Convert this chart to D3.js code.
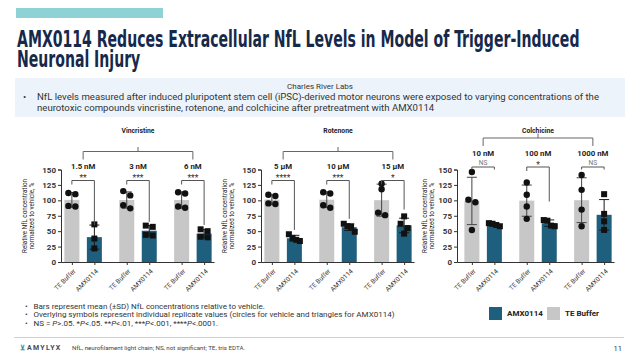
<!DOCTYPE html>
<html><head><meta charset="utf-8">
<script src="https://cdn.jsdelivr.net/npm/d3@7"></script>
<style>
html,body{margin:0;padding:0;background:#fff;}
svg{display:block;font-family:Roboto,'Noto Sans',sans-serif;}
</style></head>
<body>
<svg id="c" width="640" height="355"></svg>
<script>
// ---------- data ----------
const panels = ["Vincristine", "Rotenone", "Colchicine"];
const doses = [
  ["1.5 nM", "3 nM", "6 nM"],
  ["5 µM", "10 µM", "15 µM"],
  ["10 nM", "100 nM", "1000 nM"]
];
const treatments = ["TE Buffer", "AMX0114"];
// individual replicate values (% of vehicle)
const teBuffer = [
  [[110, 112, 91, 90], [115, 108, 92, 87], [113, 111, 90, 88]],
  [[109, 107, 95, 94], [113, 111, 92, 88], [127, 118, 80, 76]],
  [[146, 101, 97, 52], [129, 109, 90, 70], [141, 117, 85, 58]]
];
const amx0114 = [
  [[61, 38, 22], [59, 57, 44, 43], [53, 50, 41, 40]],
  [[45, 39, 36, 34], [62, 58, 57, 49], [74, 62, 55, 46]],
  [[63, 62, 60, 58], [68, 67, 59, 58], [110, 78, 66, 52]]
];
const sigLabels = [["**", "***", "***"], ["****", "***", "*"], ["NS", "*", "NS"]];
const sigLegEnd = [[60, 65, 60], [52, 70, 85], [null, 98, null]];
const yTicks = [0, 25, 50, 75, 100, 125, 150];
const yTitle = ["Relative NfL concentration", "normalized to vehicle, %"];
const legendItems = ["AMX0114", "TE Buffer"];
const titleLines = ["AMX0114 Reduces Extracellular NfL Levels in Model of Trigger-Induced", "Neuronal Injury"];

// ---------- styles ----------
const BLUE = "#1f5f7e", GRAY = "#c7c7c7", NAVY = "#16294b";
const svg = d3.select("#c");

// header
svg.append("rect").attr("x", 16).attr("y", 8).attr("width", 147).attr("height", 10).attr("fill", "#8ed2d6");
const tf = "'Liberation Sans Narrow','DejaVu Sans Condensed','Liberation Sans',sans-serif";
const tt = svg.append("text").attr("font-family", tf).attr("font-size", 22.5)
  .attr("font-weight", "bold").attr("fill", NAVY);
const l1 = tt.append("tspan").attr("x", 0).attr("y", 0).text(titleLines[0]);
tt.append("tspan").attr("x", 0).attr("y", 19.5).text(titleLines[1]);
const sx = 563 / l1.node().getComputedTextLength();
tt.attr("transform", `translate(17,47) scale(${sx},1)`);

svg.append("rect").attr("x", 15).attr("y", 78).attr("width", 610).attr("height", 39).attr("fill", "#ecf3fb");
svg.append("text").attr("x", 320).attr("y", 86).attr("dy", "0.35em").attr("text-anchor", "middle")
  .attr("font-size", 8).attr("fill", "#333").text("Charles River Labs");
svg.append("text").attr("x", 23).attr("y", 96.5).attr("dy", "0.35em").attr("font-size", 9.6).attr("fill", "#333").text("•");
svg.append("text").attr("x", 37).attr("y", 96.5).attr("dy", "0.35em").attr("font-size", 9.6).attr("fill", "#333")
  .text("NfL levels measured after induced pluripotent stem cell (iPSC)-derived motor neurons were exposed to varying concentrations of the");
svg.append("text").attr("x", 37).attr("y", 107.5).attr("dy", "0.35em").attr("font-size", 9.6).attr("fill", "#333")
  .text("neurotoxic compounds vincristine, rotenone, and colchicine after pretreatment with AMX0114");

// ---------- panels ----------
const y = d3.scaleLinear().domain([0, 150]).range([262, 169.5]);
const panelX = [0, 200, 400];
const axisX = [61, 61, 57];
const annShift = [0, 0, -13.5];
const inner = d3.scaleBand().domain(treatments).range([-18.75, 18.75]).paddingInner(1 / 3);
const mean = a => d3.mean(a), sd = a => d3.deviation(a);

panels.forEach((name, p) => {
  const px = panelX[p];
  const g = svg.append("g");
  const grp = d3.scalePoint().domain(doses[p]).range([px + 62, px + 214]).padding(0.385);
  const cx = (dose, trt) => grp(dose) + inner(trt) + inner.bandwidth() / 2;

  // custom x scale for the category axis
  const keys = [];
  doses[p].forEach(d => treatments.forEach(t => keys.push(d + "|" + t)));
  const xs = k => { const [d, t] = k.split("|"); return cx(d, t); };
  xs.domain = () => keys; xs.range = () => [px + axisX[p], px + 214]; xs.copy = () => xs;

  const rows = [];
  doses[p].forEach((d, i) => {
    rows.push({ d, t: "TE Buffer", v: teBuffer[p][i] });
    rows.push({ d, t: "AMX0114", v: amx0114[p][i] });
  });
  g.selectAll(".bar").data(rows).join("rect")
    .attr("x", r => grp(r.d) + inner(r.t)).attr("width", inner.bandwidth())
    .attr("y", r => y(mean(r.v))).attr("height", r => y(0) - y(mean(r.v)))
    .attr("fill", r => r.t === "TE Buffer" ? GRAY : BLUE);

  // error bars (mean ± SD)
  rows.forEach(r => {
    const m = mean(r.v), s = sd(r.v), c = cx(r.d, r.t);
    const col = r.t === "TE Buffer" ? "#444" : "#1a1a1a";
    g.append("line").attr("x1", c).attr("x2", c).attr("y1", y(m + s)).attr("y2", y(m - s)).attr("stroke", col).attr("stroke-width", 1);
    [m + s, m - s].forEach(v => g.append("line").attr("x1", c - 5).attr("x2", c + 5).attr("y1", y(v)).attr("y2", y(v)).attr("stroke", col).attr("stroke-width", 1));
  });

  // replicate points
  rows.forEach(r => {
    const c = cx(r.d, r.t);
    const sorted = r.v.slice().sort((a, b) => b - a);
    const clusters = [];
    sorted.forEach(v => {
      const last = clusters[clusters.length - 1];
      if (last && Math.abs(y(last[last.length - 1]) - y(v)) < 5.5) last.push(v); else clusters.push([v]);
    });
    clusters.forEach(cl => cl.forEach((v, i) => {
      const step = cl.length > 2 ? 11 / (cl.length - 1) : 7;
      const off = (i - (cl.length - 1) / 2) * step;
      if (r.t === "TE Buffer") {
        g.append("circle").attr("cx", c + off).attr("cy", y(v)).attr("r", 3.2).attr("fill", "#111");
      } else {
        g.append("rect").attr("x", c + off - 3).attr("y", y(v) - 3).attr("width", 6).attr("height", 6).attr("fill", "#111");
      }
    }));
  });

  // axes
  const ya = g.append("g").attr("transform", `translate(${px + axisX[p]},0)`)
    .call(d3.axisLeft(y).tickValues(yTicks).tickSize(3).tickPadding(2));
  ya.select(".domain").attr("stroke", "#333");
  ya.selectAll(".tick line").attr("stroke", "#333");
  ya.selectAll(".tick text").attr("font-size", 8).attr("font-weight", "bold").attr("fill", "#333").attr("font-family", "Roboto");
  const xa = g.append("g").attr("transform", "translate(0,262)")
    .call(d3.axisBottom(xs).tickSize(3).tickSizeOuter(0).tickFormat(k => k.split("|")[1]));
  xa.select(".domain").attr("stroke", "#333");
  xa.selectAll(".tick line").attr("stroke", "#333");
  xa.selectAll(".tick text").attr("font-size", 6.5).attr("fill", "#333").attr("font-family", "Roboto")
    .attr("text-anchor", "end").attr("dy", "0.35em").attr("y", 0)
    .attr("transform", "translate(2,8) rotate(-45)");

  yTitle.forEach((t, i) => g.append("text").attr("transform", `translate(${px + 25 + i * 7},216) rotate(-90)`)
    .attr("text-anchor", "middle").attr("dy", "0.35em").attr("font-size", 6.3).attr("fill", "#222").text(t));

  // panel title & group bracket
  const sh = annShift[p];
  const gx0 = grp(doses[p][0]), gx1 = grp(doses[p][1]), gx2 = grp(doses[p][2]);
  g.append("text").attr("x", gx1).attr("y", 131).attr("dy", "0.35em").attr("text-anchor", "middle")
    .attr("font-size", 6.8).attr("font-weight", "bold").attr("fill", "#222").text(name);
  g.append("path").attr("d", `M${gx0},${159.5 + sh}V${151.5 + sh}H${gx2}V${159.5 + sh}M${gx1},${151.5 + sh}V${147 + sh}`)
    .attr("fill", "none").attr("stroke", "#666").attr("stroke-width", 1);

  doses[p].forEach((d, i) => {
    g.append("text").attr("x", grp(d)).attr("y", 166.5 + sh).attr("dy", "0.35em").attr("text-anchor", "middle")
      .attr("font-size", 7.8).attr("font-weight", "bold").attr("fill", "#222").text(d);
    const lab = sigLabels[p][i];
    const ns = lab === "NS";
    const a = cx(d, "TE Buffer"), b = cx(d, "AMX0114");
    const ly = 180.5 + sh;
    g.append("text").attr("x", (a + b) / 2).attr("y", ns ? ly - 2.5 : ly - 4).attr("dy", ns ? "0" : "0.55em")
      .attr("text-anchor", "middle").attr("font-size", ns ? 6.6 : 8.5).attr("fill", ns ? "#777" : "#333")
      .text(lab);
    const endY = sigLegEnd[p][i] == null ? ly + 2.5 : y(sigLegEnd[p][i]);
    g.append("path").attr("d", `M${a},${ly + (ns ? 2.5 : 4)}V${ly}H${b}V${endY}`)
      .attr("fill", "none").attr("stroke", "#555").attr("stroke-width", 1);
  });
});

// ---------- footnotes ----------
const fn = svg.append("g").attr("font-size", 8).attr("fill", "#333");
const fy = [306, 314.5, 323];
fy.forEach(v => fn.append("text").attr("x", 25).attr("y", v).attr("dy", "0.35em").text("•"));
fn.append("text").attr("x", 33.5).attr("y", fy[0]).attr("dy", "0.35em").text("Bars represent mean (±SD) NfL concentrations relative to vehicle.");
fn.append("text").attr("x", 33.5).attr("y", fy[1]).attr("dy", "0.35em").text("Overlying symbols represent individual replicate values (circles for vehicle and triangles for AMX0114)");
const t3 = fn.append("text").attr("x", 33.5).attr("y", fy[2]).attr("dy", "0.35em");
[["NS = ", 0], ["P", 1], [">.05. *", 0], ["P", 1], ["<.05. **", 0], ["P", 1], ["<.01, ***", 0], ["P", 1], ["<.001, ****", 0], ["P", 1], ["<.0001.", 0]]
  .forEach(([s, it]) => t3.append("tspan").attr("font-style", it ? "italic" : "normal").text(s));

// legend
const lg = svg.append("g");
legendItems.forEach((t, i) => {
  const lx = 489 + i * 58;
  lg.append("rect").attr("x", lx).attr("y", 307).attr("width", 13).attr("height", 13).attr("fill", t === "AMX0114" ? BLUE : GRAY);
  lg.append("text").attr("x", lx + 18).attr("y", 313.5).attr("dy", "0.35em").attr("font-size", 8).attr("font-weight", "bold").attr("fill", "#222").text(t);
});

svg.append("line").attr("x1", 14).attr("x2", 624).attr("y1", 337.5).attr("y2", 337.5).attr("stroke", "#c9d2e3").attr("stroke-width", 1);
svg.append("text").attr("x", 20).attr("y", 348).attr("dy", "0.35em").attr("font-size", 7).attr("fill", "#1f8a95").attr("font-weight", "bold").text("⊻");
svg.append("text").attr("x", 27).attr("y", 348).attr("dy", "0.35em").attr("font-size", 7).attr("fill", "#3b4a63")
  .attr("font-weight", "bold").attr("letter-spacing", 1.3).text("AMYLYX");
svg.append("text").attr("x", 72).attr("y", 348).attr("dy", "0.35em").attr("font-size", 6.2).attr("fill", "#444")
  .text("NfL, neurofilament light chain; NS, not significant; TE, tris EDTA.");
svg.append("text").attr("x", 622).attr("y", 348).attr("dy", "0.35em").attr("text-anchor", "end").attr("font-size", 7.5).attr("fill", "#333").text("11");
</script>
</body></html>
